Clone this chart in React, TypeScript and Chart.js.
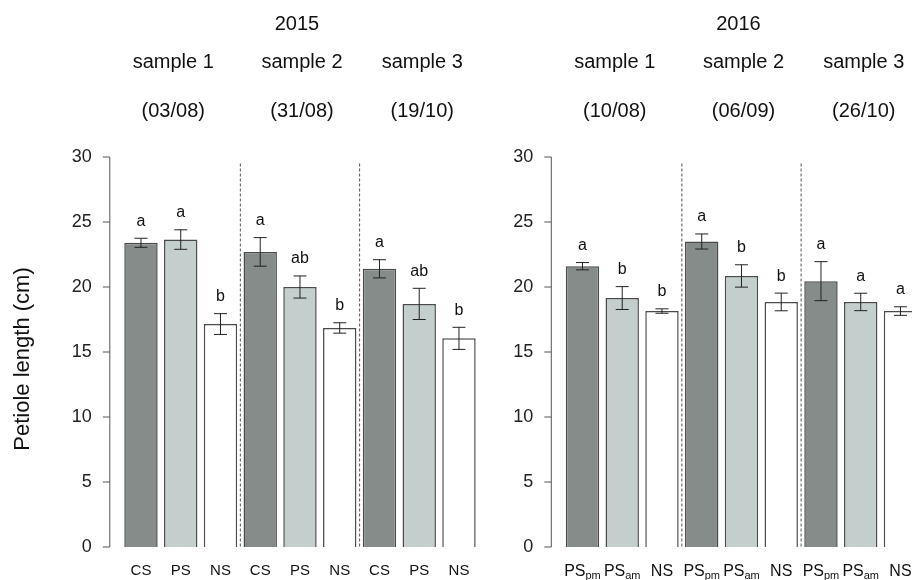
import React, { useEffect, useRef } from "react";
import { Chart, registerables } from "chart.js";

Chart.register(...registerables);

// ---------- data ----------
const yTicks = [0, 5, 10, 15, 20, 25, 30];

const year2015 = "2015";
const samples2015 = ["sample 1", "sample 2", "sample 3"];
const dates2015 = ["(03/08)", "(31/08)", "(19/10)"];
const labels2015: [string, string][] = [
  ["CS", ""], ["PS", ""], ["NS", ""],
  ["CS", ""], ["PS", ""], ["NS", ""],
  ["CS", ""], ["PS", ""], ["NS", ""],
];
const means2015 = [23.4, 23.65, 17.15, 22.7, 20.0, 16.85, 21.4, 18.7, 16.05];
const errors2015 = [0.35, 0.75, 0.8, 1.1, 0.85, 0.4, 0.7, 1.2, 0.85];
const letters2015 = ["a", "a", "b", "a", "ab", "b", "a", "ab", "b"];

const year2016 = "2016";
const samples2016 = ["sample 1", "sample 2", "sample 3"];
const dates2016 = ["(10/08)", "(06/09)", "(26/10)"];
const labels2016: [string, string][] = [
  ["PS", "pm"], ["PS", "am"], ["NS", ""],
  ["PS", "pm"], ["PS", "am"], ["NS", ""],
  ["PS", "pm"], ["PS", "am"], ["NS", ""],
];
const means2016 = [21.6, 19.15, 18.15, 23.5, 20.85, 18.85, 20.45, 18.85, 18.15];
const errors2016 = [0.28, 0.88, 0.17, 0.58, 0.86, 0.68, 1.5, 0.67, 0.33];
const letters2016 = ["a", "b", "b", "a", "b", "b", "a", "a", "a"];

const yTitle = "Petiole length (cm)";

// ---------- styles ----------
const FONT = '"Liberation Sans", Arial, Helvetica, sans-serif';
const treatmentColors = ["#858c89", "#c4cfcd", "#ffffff"];
const BORDER = "#4a4a4a";
const PITCH = 39.75;
const headerOffsets = [-7.5, 2, 3];

type PanelProps = {
  canvasLeft: number;
  canvasWidth: number;
  areaLeft: number; // page x of chart area left
  year: string;
  samples: string[];
  dates: string[];
  labels: [string, string][];
  means: number[];
  errors: number[];
  letters: string[];
  showYTitle: boolean;
  subLabels: boolean;
};

function Panel(p: PanelProps) {
  const ref = useRef<HTMLCanvasElement | null>(null);

  useEffect(() => {
    if (!ref.current) return;
    const areaLeftLocal = p.areaLeft - p.canvasLeft;
    const padRight = p.canvasWidth - areaLeftLocal - PITCH * p.means.length;

    const overlay = {
      id: "overlay",
      afterDatasetsDraw(chart: any) {
        const ctx = chart.ctx as CanvasRenderingContext2D;
        const xs = chart.scales.x;
        const ys = chart.scales.y;
        const meta = chart.getDatasetMeta(0);
        const area = chart.chartArea;
        ctx.save();

        // y axis line + ticks
        const axX = area.left - 11.3;
        ctx.strokeStyle = "#555";
        ctx.lineWidth = 1;
        ctx.beginPath();
        ctx.moveTo(axX, ys.getPixelForValue(yTicks[0]));
        ctx.lineTo(axX, ys.getPixelForValue(yTicks[yTicks.length - 1]));
        yTicks.forEach((t) => {
          const yy = ys.getPixelForValue(t);
          ctx.moveTo(axX, yy);
          ctx.lineTo(axX - 7, yy);
        });
        ctx.stroke();

        // dashed separators
        ctx.strokeStyle = "#555";
        ctx.setLineDash([3, 2]);
        for (let g = 1; g < 3; g++) {
          const xx = (xs.getPixelForValue(g * 3 - 1) + xs.getPixelForValue(g * 3)) / 2;
          ctx.beginPath();
          ctx.moveTo(xx, ys.getPixelForValue(29.5));
          ctx.lineTo(xx, ys.getPixelForValue(0));
          ctx.stroke();
        }
        ctx.setLineDash([]);

        // error bars + letters
        ctx.strokeStyle = "#222";
        ctx.fillStyle = "#111";
        ctx.lineWidth = 1;
        ctx.font = `16px ${FONT}`;
        ctx.textAlign = "center";
        ctx.textBaseline = "alphabetic";
        p.means.forEach((m, i) => {
          const bar = meta.data[i];
          const xx = bar.x;
          const yt = ys.getPixelForValue(m + p.errors[i]);
          const yb = ys.getPixelForValue(m - p.errors[i]);
          ctx.beginPath();
          ctx.moveTo(xx, yt);
          ctx.lineTo(xx, yb);
          ctx.moveTo(xx - 6.5, yt);
          ctx.lineTo(xx + 6.5, yt);
          ctx.moveTo(xx - 6.5, yb);
          ctx.lineTo(xx + 6.5, yb);
          ctx.stroke();
          ctx.fillText(p.letters[i], xx, yt - 12.5);
        });

        // x labels
        p.labels.forEach(([main, sub], i) => {
          const xx = xs.getPixelForValue(i);
          if (sub) {
            ctx.font = `16px ${FONT}`;
            const w1 = ctx.measureText(main).width;
            ctx.font = `11px ${FONT}`;
            const w2 = ctx.measureText(sub).width;
            const start = xx - (w1 + w2) / 2;
            ctx.textAlign = "left";
            ctx.font = `16px ${FONT}`;
            ctx.fillText(main, start, 576);
            ctx.font = `11px ${FONT}`;
            ctx.fillText(sub, start + w1, 579);
          } else {
            ctx.textAlign = "center";
            ctx.font = p.subLabels ? `16px ${FONT}` : `15px ${FONT}`;
            ctx.fillText(main, xx, p.subLabels ? 576 : 575);
          }
        });

        // headers
        ctx.textAlign = "center";
        ctx.font = `20px ${FONT}`;
        const gc = (g: number) =>
          (xs.getPixelForValue(g * 3) + xs.getPixelForValue(g * 3 + 2)) / 2;
        ctx.fillText(p.year, gc(1) - 3, 30);
        p.samples.forEach((s, g) => {
          ctx.fillText(s, gc(g) + headerOffsets[g], 68);
        });
        p.dates.forEach((d, g) => {
          ctx.fillText(d, gc(g) + headerOffsets[g], 116.5);
        });

        // y title
        if (p.showYTitle) {
          ctx.save();
          ctx.translate(23, 359);
          ctx.rotate(-Math.PI / 2);
          ctx.font = `22px ${FONT}`;
          ctx.textBaseline = "middle";
          ctx.fillText(yTitle, 0, 0);
          ctx.restore();
        }
        ctx.restore();
      },
    };

    const chart = new Chart(ref.current, {
      type: "bar",
      data: {
        labels: p.labels.map((l) => l[0] + l[1]),
        datasets: [
          {
            data: p.means,
            backgroundColor: p.means.map((_, i) => treatmentColors[i % 3]),
            borderColor: BORDER,
            borderWidth: 1.5,
            barPercentage: 0.84,
            categoryPercentage: 1,
          },
        ],
      },
      options: {
        responsive: false,
        animation: false,
        layout: { padding: { top: 157, bottom: 33, left: 0, right: padRight } },
        plugins: { legend: { display: false }, tooltip: { enabled: false } },
        scales: {
          x: {
            type: "category",
            offset: true,
            grid: { display: false, drawTicks: false },
            border: { display: false },
            ticks: { display: false },
            afterFit: (s: any) => {
              s.height = 0;
              s.paddingLeft = 0;
              s.paddingRight = 0;
              s.paddingTop = 0;
              s.paddingBottom = 0;
            },
          },
          y: {
            min: 0,
            max: 30,
            grid: { display: false, drawTicks: false },
            border: { display: false },
            ticks: {
              stepSize: 5,
              padding: 29.3,
              color: "#222",
              font: { size: 18, family: FONT },
            },
            afterFit: (s: any) => {
              s.width = areaLeftLocal;
              s.paddingTop = 0;
              s.paddingBottom = 0;
              s.paddingLeft = 0;
              s.paddingRight = 0;
            },
          },
        },
      },
      plugins: [overlay],
    } as any);
    return () => chart.destroy();
  }, []);

  return (
    <canvas
      ref={ref}
      width={p.canvasWidth}
      height={580}
      style={{ position: "absolute", left: p.canvasLeft, top: 0, width: p.canvasWidth, height: 580 }}
    />
  );
}

export default function App() {
  return (
    <div
      style={{
        position: "absolute",
        left: 0,
        top: 0,
        width: 912,
        height: 580,
        overflow: "hidden",
        background: "#ffffff",
      }}
    >
      <Panel
        canvasLeft={0}
        canvasWidth={480}
        areaLeft={121.1}
        year={year2015}
        samples={samples2015}
        dates={dates2015}
        labels={labels2015}
        means={means2015}
        errors={errors2015}
        letters={letters2015}
        showYTitle={true}
        subLabels={false}
      />
      <Panel
        canvasLeft={470}
        canvasWidth={460}
        areaLeft={562.6}
        year={year2016}
        samples={samples2016}
        dates={dates2016}
        labels={labels2016}
        means={means2016}
        errors={errors2016}
        letters={letters2016}
        showYTitle={false}
        subLabels={true}
      />
    </div>
  );
}
